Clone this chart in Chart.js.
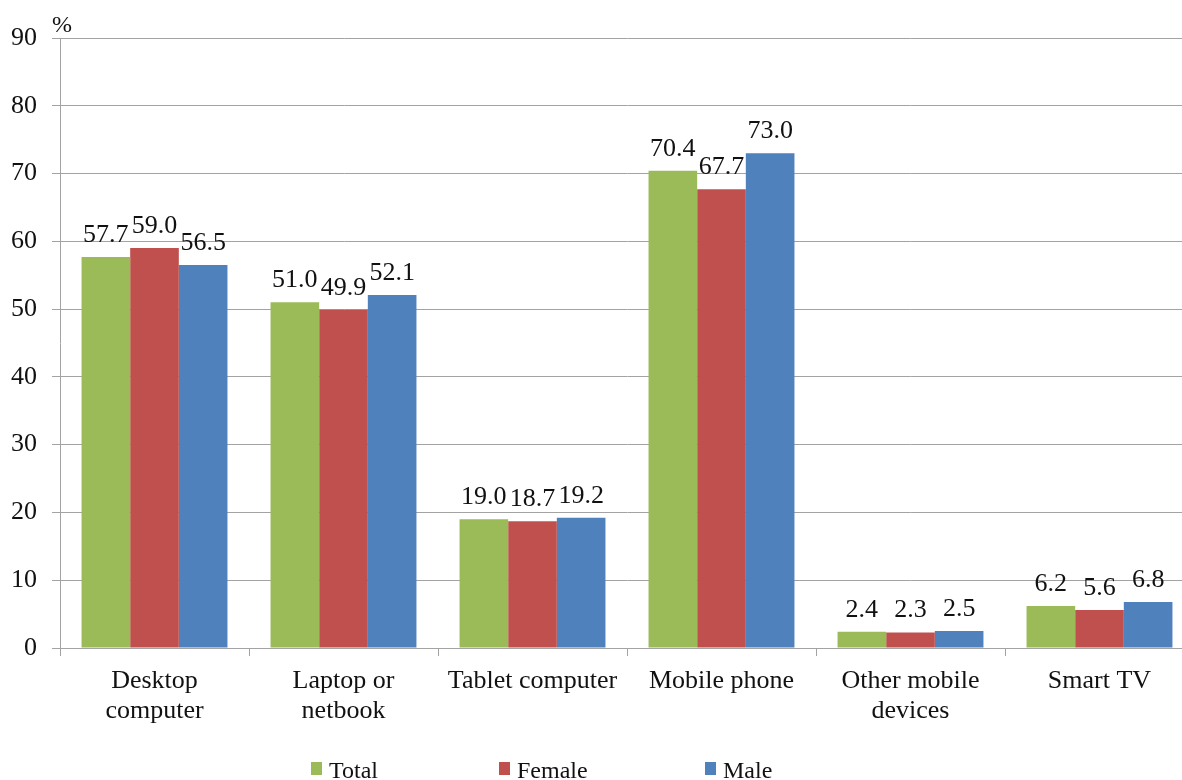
<!DOCTYPE html>
<html>
<head>
<meta charset="utf-8">
<script src="https://cdn.jsdelivr.net/npm/chart.js@4"></script>
<style>
  html, body { margin: 0; padding: 0; background: #fff; overflow: hidden; }
  #wrap { width: 1200px; height: 780px; }
</style>
</head>
<body>
<div id="wrap"><canvas id="chart" width="1200" height="780"></canvas></div>
<script>
const categories = [
  ['Desktop', 'computer'],
  ['Laptop or', 'netbook'],
  'Tablet computer',
  'Mobile phone',
  ['Other mobile', 'devices'],
  'Smart TV'
];
const total = [57.7, 51.0, 19.0, 70.4, 2.4, 6.2];
const female = [59.0, 49.9, 18.7, 67.7, 2.3, 5.6];
const male = [56.5, 52.1, 19.2, 73.0, 2.5, 6.8];
const yTicks = [0, 10, 20, 30, 40, 50, 60, 70, 80, 90];

const serif = '"Liberation Serif", "Times New Roman", serif';
const gridColor = '#a3a3a3';

// value labels above bars
const barLabels = {
  id: 'barLabels',
  afterDatasetsDraw(chart) {
    const ctx = chart.ctx;
    ctx.save();
    ctx.font = '26px ' + serif;
    ctx.fillStyle = '#111';
    ctx.textAlign = 'center';
    ctx.textBaseline = 'alphabetic';
    chart.data.datasets.forEach((ds, i) => {
      chart.getDatasetMeta(i).data.forEach((bar, j) => {
        ctx.fillText(ds.data[j].toFixed(1), bar.x, bar.y - 15);
      });
    });
    ctx.restore();
  }
};

// "%" unit and the bottom legend
const extras = {
  id: 'extras',
  afterDraw(chart) {
    const ctx = chart.ctx;
    const area = chart.chartArea;
    ctx.save();
    ctx.fillStyle = '#111';
    ctx.font = '24px ' + serif;
    ctx.textAlign = 'left';
    ctx.textBaseline = 'alphabetic';
    ctx.fillText('%', area.left - 8, area.top - 6);

    const items = [
      { label: 'Total', x: 311 },
      { label: 'Female', x: 499 },
      { label: 'Male', x: 705 }
    ];
    ctx.font = '24px ' + serif;
    items.forEach((it, i) => {
      ctx.fillStyle = chart.data.datasets[i].backgroundColor;
      ctx.fillRect(it.x, 762, 11, 13);
      ctx.fillStyle = '#111';
      ctx.fillText(it.label, it.x + 18, 778);
    });
    ctx.restore();
  }
};

new Chart(document.getElementById('chart'), {
  type: 'bar',
  data: {
    labels: categories,
    datasets: [
      { label: 'Total', data: total, backgroundColor: '#9BBB59' },
      { label: 'Female', data: female, backgroundColor: '#C0504D' },
      { label: 'Male', data: male, backgroundColor: '#4F81BD' }
    ]
  },
  options: {
    responsive: false,
    animation: false,
    devicePixelRatio: 1,
    layout: { padding: { left: 0, right: 6, top: 38, bottom: 0 } },
    datasets: {
      bar: { categoryPercentage: 0.772, barPercentage: 1.0 }
    },
    plugins: {
      legend: { display: false },
      tooltip: { enabled: false }
    },
    scales: {
      x: {
        afterFit(scale) { scale.height = 132; },
        grid: {
          drawOnChartArea: false,
          drawTicks: true,
          tickLength: 8,
          color: gridColor,
          offset: true
        },
        border: { color: gridColor },
        ticks: {
          color: '#111',
          font: { family: serif, size: 26, lineHeight: 1.12 },
          padding: 11,
          maxRotation: 0,
          autoSkip: false
        }
      },
      y: {
        min: 0,
        max: 90,
        afterFit(scale) { scale.width = 60; },
        afterBuildTicks(scale) { scale.ticks = yTicks.map(v => ({ value: v })); },
        grid: { color: gridColor, tickLength: 8 },
        border: { color: gridColor },
        ticks: {
          color: '#111',
          font: { family: serif, size: 26 },
          padding: 15
        }
      }
    }
  },
  plugins: [barLabels, extras]
});
</script>
</body>
</html>
